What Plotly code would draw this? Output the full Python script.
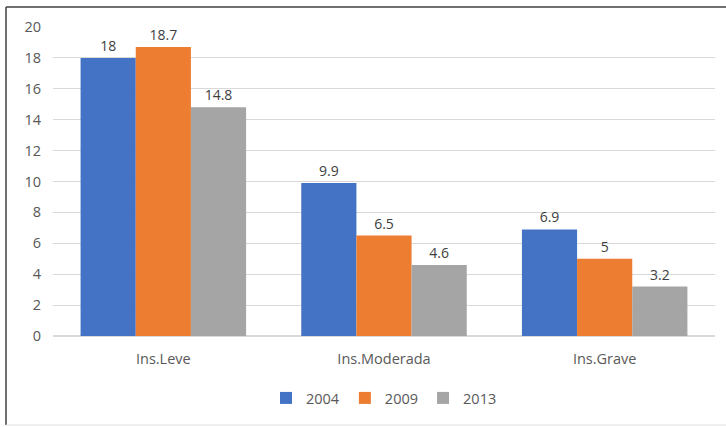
import plotly.graph_objects as go

categories = ["Ins.Leve", "Ins.Moderada", "Ins.Grave"]
years = ["2004", "2009", "2013"]
values_2004 = [18, 9.9, 6.9]
values_2009 = [18.7, 6.5, 5]
values_2013 = [14.8, 4.6, 3.2]
colors = ["#4472C4", "#ED7D31", "#A5A5A5"]
y_ticks = [0, 2, 4, 6, 8, 10, 12, 14, 16, 18, 20]

series = [values_2004, values_2009, values_2013]
fig = go.Figure()
for name, vals, col in zip(years, series, colors):
    fig.add_trace(go.Bar(
        x=categories, y=vals, name=name, marker_color=col,
        marker_line_width=0,
        text=[f"{v:g}" for v in vals], textposition="outside",
        textfont=dict(size=14, color="#404040"), cliponaxis=False,
    ))

W, H = 726, 427
l, r, t, b = 53, 11, 27, 91
pw, ph = W - l - r, H - t - b

def px(x):
    return (x - l) / pw

def py(y):
    return (H - b - y) / ph

fig.update_layout(
    width=W, height=H,
    margin=dict(l=l, r=r, t=t, b=b),
    paper_bgcolor="white", plot_bgcolor="white",
    barmode="group", bargap=0.25, bargroupgap=0,
    font=dict(family="Open Sans, sans-serif", size=14, color="#595959"),
    showlegend=True,
    legend=dict(orientation="h", x=0.5, xanchor="center", y=py(398), yanchor="middle",
                font=dict(size=14.5, color="#595959"), itemwidth=30,
                traceorder="normal"),
    xaxis=dict(showgrid=False, showline=False, ticks="outside", ticklen=10,
               tickcolor="rgba(0,0,0,0)", tickfont=dict(size=14.5, color="#595959")),
    yaxis=dict(range=[0, 20], tickvals=y_ticks, showgrid=True, gridcolor="#D9D9D9",
               gridwidth=1, zeroline=True, zerolinecolor="#D9D9D9", showline=False,
               ticks="outside", ticklen=8, tickcolor="rgba(0,0,0,0)",
               tickfont=dict(size=14.5, color="#595959")),
    shapes=[
        dict(type="line", xref="paper", yref="paper", x0=px(6), x1=px(726), y0=py(7), y1=py(7),
             line=dict(color="#404040", width=1.5)),
        dict(type="line", xref="paper", yref="paper", x0=px(6), x1=px(6), y0=py(7), y1=py(425),
             line=dict(color="#404040", width=1.5)),
        dict(type="line", xref="paper", yref="paper", x0=px(6), x1=px(726), y0=py(425), y1=py(425),
             line=dict(color="#E0E0E0", width=1)),
    ],
)
fig.write_html("out.html", post_script="document.body.style.margin='0';",
               config={"displayModeBar": False})
